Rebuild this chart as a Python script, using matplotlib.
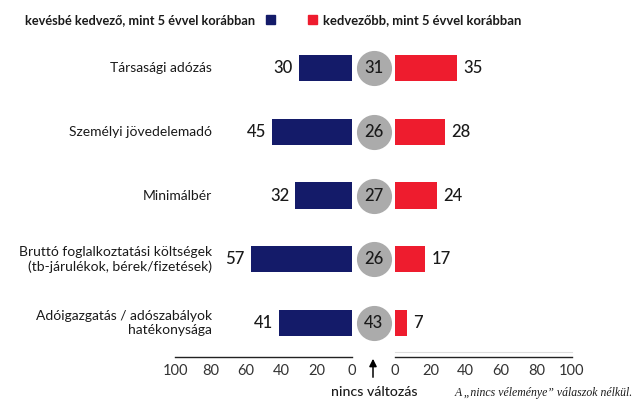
import matplotlib
matplotlib.use("Agg")
import matplotlib.pyplot as plt
from matplotlib.patches import Rectangle

plt.rcParams['font.family'] = ['Lato', 'DejaVu Sans']

categories = ["Társasági adózás", "Személyi jövedelemadó", "Minimálbér",
              "Bruttó foglalkoztatási költségek\n(tb-járulékok, bérek/fizetések)",
              "Adóigazgatás / adószabályok\nhatékonysága"]
worse = [30, 45, 32, 57, 41]
no_change = [31, 26, 27, 26, 43]
better = [35, 28, 24, 17, 7]
ticks = [0, 20, 40, 60, 80, 100]
legend_worse = "kevésbé kedvező, mint 5 évvel korábban"
legend_better = "kedvezőbb, mint 5 évvel korábban"

NAVY = "#141B69"
RED = "#EE1C2E"
GRAY = "#ABABAB"
TXT = "#1a1a1a"

W, H = 637, 400
fig = plt.figure(figsize=(W / 100, H / 100), dpi=100)

def fx(px):
    return px / W

def fy(py):
    return 1 - py / H

top_px, bot_px = 40, 357
ax_b = fy(bot_px)
ax_h = (bot_px - top_px) / H
ylim = (4.533, -0.439)
bh = 0.41

axL = fig.add_axes([fx(175), ax_b, fx(352) - fx(175), ax_h])
axR = fig.add_axes([fx(395), ax_b, fx(572) - fx(395), ax_h])
axM = fig.add_axes([fx(352), ax_b, fx(395) - fx(352), ax_h])

rows = list(range(len(categories)))

axL.barh(rows, worse, height=bh, color=NAVY)
axL.set_xlim(100, 0)
axR.barh(rows, better, height=bh, color=RED)
axR.set_xlim(0, 100)

for ax in (axL, axR, axM):
    ax.set_ylim(*ylim)
    for s in ("top", "left", "right"):
        ax.spines[s].set_visible(False)
    ax.set_yticks([])
    ax.patch.set_visible(False)

for ax in (axL, axR):
    ax.spines["bottom"].set_color("#222222")
    ax.spines["bottom"].set_linewidth(1.0)
    ax.set_xticks(ticks)
    ax.set_xticklabels([str(t) for t in ticks], fontsize=10.5, color="#333333")
    ax.tick_params(axis="x", length=0, pad=5)

# faint guide line above right axis
axR.plot([0, 100], [4.45, 4.45], color="#dddddd", lw=0.8, clip_on=False)

axM.spines["bottom"].set_visible(False)
axM.set_xticks([])
axM.set_xlim(0, 1)

for i in rows:
    axL.text(worse[i] + 3.5, i, str(worse[i]), ha="right", va="center",
             fontsize=12, fontweight="medium", color=TXT)
    axR.text(better[i] + 3.5, i, str(better[i]), ha="left", va="center",
             fontsize=12, fontweight="medium", color=TXT)
    axM.scatter([0.5], [i], s=640, color=GRAY, zorder=3, clip_on=False, linewidths=0)
    axM.text(0.5, i, str(no_change[i]), ha="center", va="center",
             fontsize=12, fontweight="medium", color=TXT, zorder=4)
    axL.text(1.0 - (352 - 212) / 177.0, i, categories[i], transform=axL.get_yaxis_transform(),
             ha="right", va="center", fontsize=10, color=TXT, multialignment="right",
             linespacing=1.2)

# legend
fig.text(fx(25), fy(20), legend_worse, ha="left", va="center", fontsize=9.2,
         fontweight="bold", color=TXT)
fig.patches.append(Rectangle((fx(266), fy(24)), fx(9), 9 / H, transform=fig.transFigure,
                             color=NAVY))
fig.patches.append(Rectangle((fx(308), fy(24)), fx(9), 9 / H, transform=fig.transFigure,
                             color=RED))
fig.text(fx(323), fy(20), legend_better, ha="left", va="center", fontsize=9.4,
         fontweight="bold", color=TXT)

# arrow & note
fig.add_artist(matplotlib.patches.FancyArrowPatch(
    (fx(373), fy(380)), (fx(373), fy(356)), transform=fig.transFigure,
    arrowstyle="-|>", mutation_scale=11, color="black", lw=1.1))
fig.text(fx(374), fy(392), "nincs változás", ha="center", va="center",
         fontsize=10.2, fontweight="medium", color=TXT)
fig.text(fx(455), fy(393), "A \u201enincs véleménye\u201d válaszok nélkül.", ha="left",
         va="center", fontsize=8.5, style="italic", family="Liberation Serif", color=TXT)

fig.savefig("out.png", dpi=100)
